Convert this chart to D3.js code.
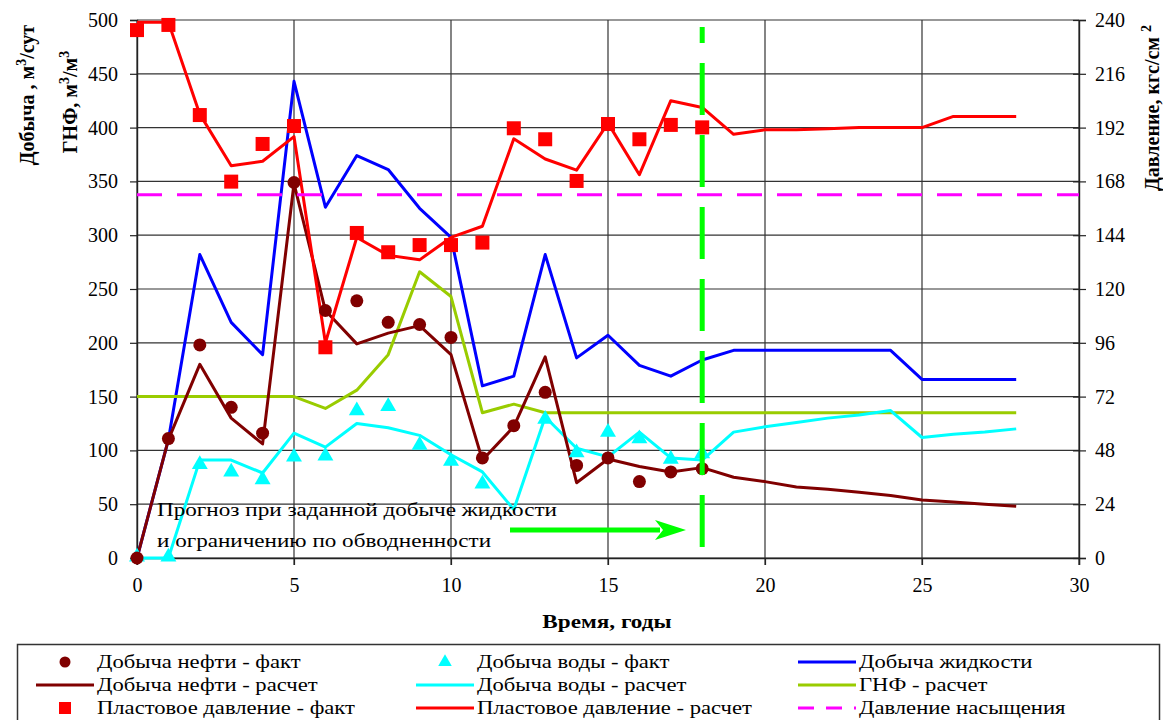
<!DOCTYPE html>
<html>
<head>
<meta charset="utf-8">
<script src="https://cdn.jsdelivr.net/npm/d3@7"></script>
<style>
  body { margin: 0; background: #fff; }
  svg text { font-family: "Liberation Serif", "DejaVu Serif", "Times New Roman", serif; }
</style>
</head>
<body>
<div id="chart"></div>
<script>
// годы расчета и факта
const yearsCalc = [0, 1, 2, 3, 4, 5, 6, 7, 8, 9, 10, 11, 12, 13, 14, 15, 16, 17, 18, 19, 20, 21, 22, 23, 24, 25, 26, 27, 28];
const yearsFact = [0, 1, 2, 3, 4, 5, 6, 7, 8, 9, 10, 11, 12, 13, 14, 15, 16, 17, 18];

// расчетные кривые (левая ось)
const oilCalc = [0, 110, 180, 130, 106, 348, 230, 199, 209, 216, 189, 91, 122, 187, 70, 92, 85, 80, 84, 75, 71, 66, 64, 61, 58, 54, 52, 50, 48];
const waterCalc = [0, 0, 91, 91, 79, 116, 103, 125, 121, 114, 96, 80, 45, 131, 102, 94, 117, 93, 91, 117, 122, 126, 130, 133, 137, 112, 115, 117, 120];
const liquidCalc = [0, 110, 282, 219, 189, 443, 326, 374, 361, 325, 298, 160, 169, 282, 186, 207, 179, 169, 184, 193, 193, 193, 193, 193, 193, 166, 166, 166, 166];
const gnfCalc = [150, 150, 150, 150, 150, 150, 139, 156, 189, 266, 243, 135, 143, 135, 135, 135, 135, 135, 135, 135, 135, 135, 135, 135, 135, 135, 135, 135, 135];
// давление (правая ось)
const presCalc = [239, 239, 198, 175, 177, 188, 96, 143, 135, 133, 143, 148, 187, 178, 173, 194, 171, 204, 201, 189, 191, 191, 191.5, 192, 192, 192, 197, 197, 197];

// фактические точки
const oilFact = [0, 111, 198, 140, 116, 349, 230, 239, 219, 217, 205, 93, 123, 154, 86, 93, 71, 80, 83];
const waterFact = [0, 0, 86, 79, 72, 93, 94, 136, 140, 104, 89, 68, null, 128, 97, 116, 110, 91, 96];
const presFact = [235.5, 237.8, 197.6, 167.9, 184.7, 192.7, 94, 145, 136.4, 139.6, 139.6, 140.7, 191.7, 186.8, 168.2, 193.6, 186.8, 193.2, 192.1];

const saturationPressure = 162;
const forecastStart = 18;

const xTicks = [0, 5, 10, 15, 20, 25, 30];
const yLeftTicks = [0, 50, 100, 150, 200, 250, 300, 350, 400, 450, 500];
const yRightTicks = [0, 24, 48, 72, 96, 120, 144, 168, 192, 216, 240];

const FONT = '"Liberation Serif", "DejaVu Serif", "Times New Roman", serif';
const [W, H] = [1163, 720];
const [x0, x1, yTop, yBot] = [137, 1079, 20, 558];

const x = d3.scaleLinear().domain([0, 30]).range([x0, x1]);
const yL = d3.scaleLinear().domain([0, 500]).range([yBot, yTop]);
const yR = d3.scaleLinear().domain([0, 240]).range([yBot, yTop]);

const svg = d3.select('#chart').append('svg').attr('width', W).attr('height', H)
  .attr('font-family', FONT);

// растянуть текст по ширине (в оригинале шрифт шире)
const stretch = (sel, k) => sel.each(function () {
  const len = this.getComputedTextLength();
  d3.select(this).attr('textLength', len * k).attr('lengthAdjust', 'spacingAndGlyphs');
});

// сетка
svg.append('g').selectAll('line').data(yLeftTicks).join('line')
  .attr('x1', x0).attr('x2', x1).attr('y1', d => yL(d)).attr('y2', d => yL(d))
  .attr('stroke', '#333').attr('stroke-width', 1.2);
svg.append('g').selectAll('line').data(xTicks).join('line')
  .attr('x1', d => x(d)).attr('x2', d => x(d)).attr('y1', yTop).attr('y2', yBot + 7)
  .attr('stroke', '#333').attr('stroke-width', 1.2);

// оси
const axisL = svg.append('g').attr('transform', `translate(${x0},0)`)
  .call(d3.axisLeft(yL).tickValues(yLeftTicks).tickSize(7).tickPadding(12));
const axisR = svg.append('g').attr('transform', `translate(${x1},0)`)
  .call(d3.axisRight(yR).tickValues(yRightTicks).tickSize(7).tickPadding(9));
const axisB = svg.append('g').attr('transform', `translate(0,${yBot})`)
  .call(d3.axisBottom(x).tickValues(xTicks).tickSize(7).tickPadding(13));
[axisL, axisR, axisB].forEach(a => {
  a.attr('font-family', FONT).attr('font-size', 20);
  a.select('.domain').attr('stroke', '#222').attr('stroke-width', 1.4);
  a.selectAll('.tick line').attr('stroke', '#222').attr('stroke-width', 1.2);
  a.selectAll('.tick text').attr('fill', '#000');
});
axisR.selectAll('.tick line').attr('x1', -6);

// линии
const line = (ys, scale) => d3.line()
  .defined((d, i) => ys[i] != null)
  .x(d => x(d)).y((d, i) => scale(ys[i]));

const plot = svg.append('g');
const lines = [
  { data: liquidCalc, scale: yL, color: '#0000ff' },
  { data: gnfCalc, scale: yL, color: '#99cc00' },
  { data: waterCalc, scale: yL, color: '#00ffff' },
  { data: oilCalc, scale: yL, color: '#800000' },
  { data: presCalc, scale: yR, color: '#ff0000' }
];
lines.forEach(s => {
  plot.append('path').datum(yearsCalc)
    .attr('d', line(s.data, s.scale))
    .attr('fill', 'none').attr('stroke', s.color).attr('stroke-width', 3)
    .attr('stroke-linejoin', 'round');
});

// давление насыщения
plot.append('line')
  .attr('x1', x(0)).attr('x2', x(30))
  .attr('y1', yR(saturationPressure)).attr('y2', yR(saturationPressure))
  .attr('stroke', '#ff00ff').attr('stroke-width', 3).attr('stroke-dasharray', '25,15');

// маркеры факта
plot.append('g').selectAll('rect').data(yearsFact).join('rect')
  .attr('x', d => x(d) - 7).attr('y', (d, i) => yR(presFact[i]) - 7)
  .attr('width', 14).attr('height', 14).attr('fill', '#ff0000');

const tri = d3.symbol().type(d3.symbolTriangle).size(110);
plot.append('g').selectAll('path')
  .data(yearsFact.filter((d, i) => waterFact[i] != null)).join('path')
  .attr('d', tri)
  .attr('transform', d => `translate(${x(d)},${yL(waterFact[d]) - 1})`)
  .attr('fill', '#00ffff');

plot.append('g').selectAll('circle').data(yearsFact).join('circle')
  .attr('cx', d => x(d)).attr('cy', (d, i) => yL(oilFact[i]))
  .attr('r', 6.5).attr('fill', '#800000');

// граница прогноза
svg.append('line')
  .attr('x1', x(forecastStart)).attr('x2', x(forecastStart))
  .attr('y1', 547).attr('y2', 27)
  .attr('stroke', '#00ff00').attr('stroke-width', 5).attr('stroke-dasharray', '52,20');

// стрелка и подпись
svg.append('line').attr('x1', 510).attr('x2', 660).attr('y1', 530).attr('y2', 530)
  .attr('stroke', '#00ff00').attr('stroke-width', 5);
svg.append('path').attr('d', 'M655,520 L686,530 L655,540 L663,530 Z').attr('fill', '#00ff00');

const note = svg.append('text').attr('font-size', 19).attr('fill', '#000');
note.append('tspan').attr('x', 157).attr('y', 516)
  .attr('textLength', 400).attr('lengthAdjust', 'spacingAndGlyphs')
  .text('Прогноз при заданной добыче жидкости');
note.append('tspan').attr('x', 157).attr('y', 547)
  .attr('textLength', 334).attr('lengthAdjust', 'spacingAndGlyphs')
  .text('и ограничению по обводненности');

// подписи осей
svg.append('text').attr('x', x(15) - 1).attr('y', 628).attr('text-anchor', 'middle')
  .attr('font-weight', 'bold').attr('font-size', 19).text('Время, годы')
  .call(stretch, 1.22);

const yTitle = (cx, cy, parts) => {
  const t = svg.append('text').attr('transform', `translate(${cx},${cy}) rotate(-90)`)
    .attr('text-anchor', 'middle').attr('font-weight', 'bold').attr('font-size', 20);
  parts.forEach(p => t.append('tspan').attr('dy', p.dy || 0)
    .attr('font-size', p.sup ? 14 : 20).text(p.t));
  return t;
};
yTitle(34, 95, [{ t: 'Добыча , м' }, { t: '3', sup: true, dy: -8 }, { t: '/сут', dy: 8 }]);
yTitle(77, 102, [{ t: 'ГНФ, м' }, { t: '3', sup: true, dy: -8 }, { t: '/м', dy: 8 }, { t: '3', sup: true, dy: -8 }]);
yTitle(1159, 108, [{ t: 'Давление, кгс/см ' }, { t: '2', sup: true, dy: -8 }]);

// легенда
svg.append('rect').attr('x', 17.5).attr('y', 644.5).attr('width', 1142).attr('height', 100)
  .attr('fill', 'none').attr('stroke', '#333').attr('stroke-width', 1.5);

const legendItems = [
  { label: 'Добыча нефти - факт', type: 'circle', color: '#800000' },
  { label: 'Добыча воды - факт', type: 'tri', color: '#00ffff' },
  { label: 'Добыча жидкости', type: 'line', color: '#0000ff' },
  { label: 'Добыча нефти - расчет', type: 'line', color: '#800000' },
  { label: 'Добыча воды - расчет', type: 'line', color: '#00ffff' },
  { label: 'ГНФ - расчет', type: 'line', color: '#99cc00' },
  { label: 'Пластовое давление - факт', type: 'square', color: '#ff0000' },
  { label: 'Пластовое давление - расчет', type: 'line', color: '#ff0000' },
  { label: 'Давление насыщения', type: 'dash', color: '#ff00ff' }
];
const colX = [36, 416, 798];
const legend = svg.append('g');
legendItems.forEach((it, i) => {
  const cx = colX[i % 3], cy = 662 + Math.floor(i / 3) * 23;
  const g = legend.append('g').attr('transform', `translate(${cx},${cy})`);
  if (it.type === 'circle') g.append('circle').attr('cx', 29).attr('r', 5.5).attr('fill', it.color);
  if (it.type === 'square') g.append('rect').attr('x', 23).attr('y', -6).attr('width', 12).attr('height', 12).attr('fill', it.color);
  if (it.type === 'tri') g.append('path').attr('d', d3.symbol().type(d3.symbolTriangle).size(80))
    .attr('transform', 'translate(29,0)').attr('fill', it.color);
  if (it.type === 'line') g.append('line').attr('x1', 0).attr('x2', 58).attr('stroke', it.color).attr('stroke-width', 3);
  if (it.type === 'dash') g.append('line').attr('x1', 0).attr('x2', 58).attr('stroke', it.color)
    .attr('stroke-width', 3).attr('stroke-dasharray', '16,12');
  g.append('text').attr('x', 61).attr('y', 6).attr('font-size', 19).text(it.label)
    .call(stretch, 1.19);
});
</script>
</body>
</html>
